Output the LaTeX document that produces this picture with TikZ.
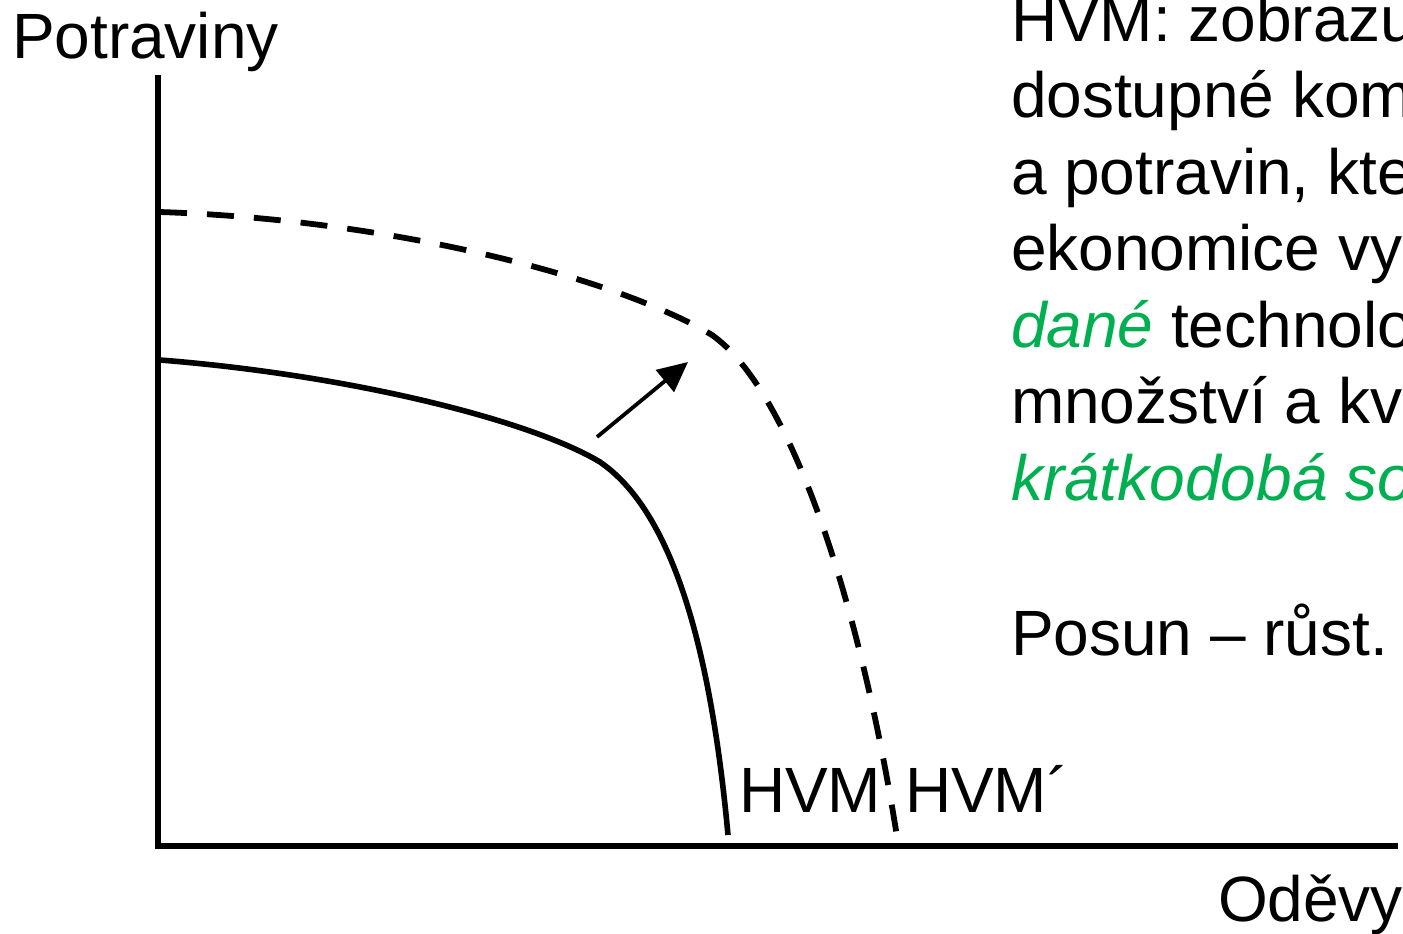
\documentclass[tikz,border=0pt]{standalone}
\usepackage{fontspec}
\setmainfont{Liberation Sans}
\usetikzlibrary{arrows.meta}
\definecolor{pgreen}{RGB}{0,176,80}
\begin{document}
\begin{tikzpicture}[x=0.5pt,y=-0.5pt,
  lbl/.style={inner sep=0pt,outer sep=0pt,anchor=base west,font=\fontsize{32}{38}\selectfont},
  axis/.style={line width=3.3pt},
  curve/.style={line width=2.8pt},
  shifted/.style={line width=2.9pt,dash pattern=on 13.5pt off 10pt},
  arr/.style={line width=1.9pt,-{Triangle[length=15pt,width=14pt]}},
  em/.style={text=pgreen,font=\fontsize{32}{38}\selectfont\itshape}]
\useasboundingbox (0,0) rectangle (1403,933);
\clip (0,0) rectangle (1403,933);
% axes
\coordinate (Ytop) at (158,75);
\coordinate (Ybot) at (158,849);
\coordinate (Xl) at (155,846);
\coordinate (Xr) at (1398,846);
\draw[axis] (Ytop) -- (Ybot);
\draw[axis] (Xl) -- (Xr);
% curves
\draw[curve] (160,360) .. controls (350,375) and (530,420) .. (600,462)
  .. controls (670,510) and (710,640) .. (728,835);
\draw[shifted] (160,212) .. controls (400,220) and (620,280) .. (712,335)
  .. controls (790,390) and (860,600) .. (898,843);
% arrow
\coordinate (arrS) at (597,437);
\coordinate (arrE) at (688,362);
\draw[arr] (arrS) -- (arrE);
% labels
\node[lbl] (pot) at (12,58) {Potraviny};
\node[lbl] (odv) at (1218,921) {Oděvy};
\node[lbl] (hvm) at (739,812) {HVM};
\node[lbl] (hvmp) at (905,812) {HVM´};
% text
\node[lbl] (t1) at (1011,41) {HVM: zobrazu};
\node[lbl] (t2) at (1011,117.5) {dostupné kom};
\node[lbl] (t3) at (1011,194) {a potravin, kte};
\node[lbl] (t4) at (1011,270.5) {ekonomice vy};
\node[lbl] (t5) at (1011,347) {{\color{pgreen}\itshape dané} technolo};
\node[lbl] (t6) at (1011,423.5) {množství a kv};
\node[lbl,em] (t7) at (1011,500) {krátkodobá so};
\node[lbl] (t8) at (1011,655) {Posun – růst.};
\end{tikzpicture}
\end{document}
